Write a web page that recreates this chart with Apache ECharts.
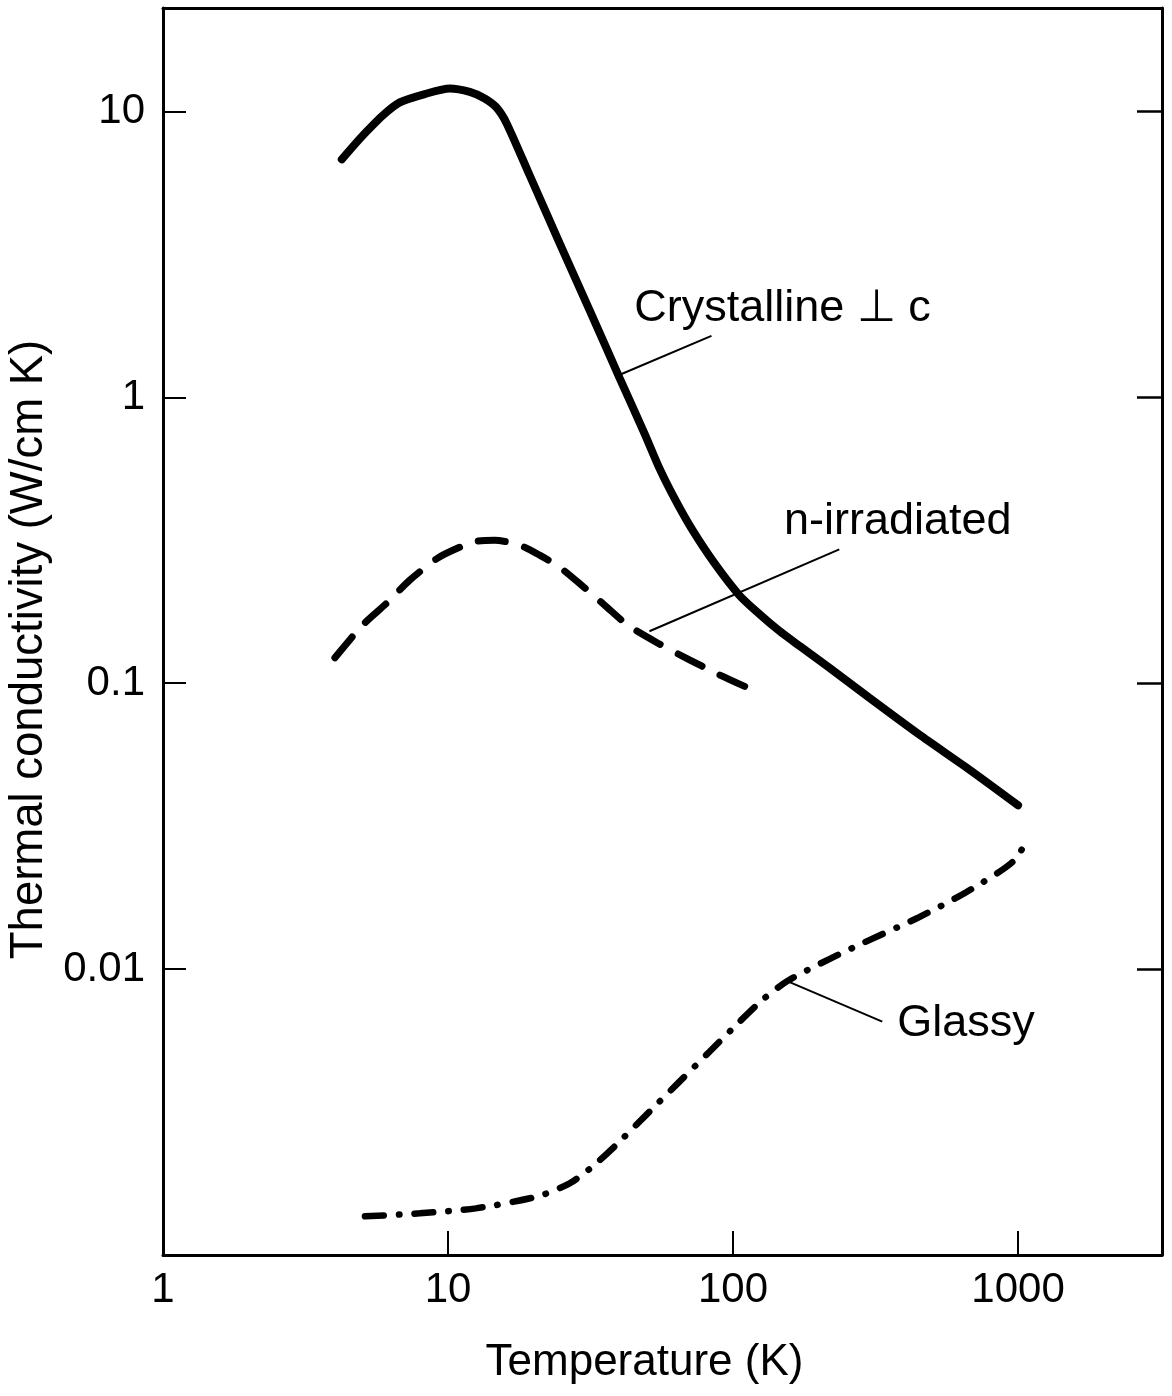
<!DOCTYPE html>
<html>
<head>
<meta charset="utf-8">
<script src="https://cdn.jsdelivr.net/npm/echarts@6/dist/echarts.min.js"></script>
<style>
  html, body { margin: 0; padding: 0; background: #fff; }
  #chart { width: 1172px; height: 1396px; }
</style>
</head>
<body>
<div id="chart"></div>
<script>
// --- data (T in K, conductivity in W/cm K) ---
const crystT = [4.24, 4.71, 5.19, 5.9, 6.77, 8.29, 10.14, 11.92, 13.45, 14.82, 16.06, 19.34, 24.63, 31.38, 39.97,
  48.93, 55.21, 62.34, 71.48, 86.07, 105.3, 123.7, 145.4, 170.9, 217.8, 300.7, 450.2, 673.9, 1000];
const crystK = [6.8, 7.67, 8.52, 9.68, 10.75, 11.5, 12.03, 11.7, 11.1, 10.3, 9.08, 5.98, 3.46, 2.02, 1.17,
  0.747, 0.564, 0.443, 0.348, 0.263, 0.203, 0.1746, 0.1523, 0.1351, 0.1132, 0.0889, 0.0661, 0.0499, 0.0374];

const irradT = [4.01, 4.98, 6.1, 7.34, 9.2, 10.99, 12.61, 14.58, 17.84, 20.96, 24.63, 29.66, 35.42, 42.65, 54.33, 70.35, 89.6, 118.9];
const irradK = [0.1227, 0.1585, 0.1907, 0.2294, 0.2739, 0.299, 0.3139, 0.3164, 0.3039, 0.2804, 0.2547, 0.2186, 0.1877, 0.1598, 0.1383, 0.1207, 0.107, 0.0941];

const glassT = [5.11, 7.96, 12.51, 20.63, 26.71, 32.16, 38.39, 50.93, 64.89, 82.66, 105.3, 126.8, 155.1, 217.8, 300.7, 450.2, 657.8, 953.4, 1094];
const glassK = [0.001365, 0.001399, 0.001456, 0.001603, 0.00178, 0.00204, 0.002396, 0.003173, 0.004039, 0.005139, 0.006539,
  0.007802, 0.009089, 0.01084, 0.01263, 0.0152, 0.01858, 0.02363, 0.02889];

// tick labels
const xTickValues = [1, 10, 100, 1000];
const xTickLabels = ['1', '10', '100', '1000'];
const yTickValues = [0.01, 0.1, 1, 10];
const yTickLabels = ['0.01', '0.1', '1', '10'];

// curve labels and their leader lines (data coords)
const labelNames = ['Crystalline \u22A5 c', 'n-irradiated', 'Glassy'];
const labelAt = [[45, 2.04], [151, 0.368], [377, 0.00644]];
const leaders = [
  [[39.3, 1.19], [84, 1.64]],
  [[50.9, 0.152], [236, 0.294]],
  [[155, 0.00908], [334, 0.00655]]
];

const INK = '#000';
const FONT = '"Liberation Sans", Arial, Helvetica, sans-serif';

const pairs = (xs, ys) => xs.map((x, i) => [x, ys[i]]);
const pickLabel = (vals, labels) => (v) => {
  for (let i = 0; i < vals.length; i++) {
    if (Math.abs(Math.log10(v) - Math.log10(vals[i])) < 1e-6) return labels[i];
  }
  return '';
};

const chart = echarts.init(document.getElementById('chart'));

const leaderSeries = leaders.map((seg) => ({
  type: 'line',
  data: seg,
  symbol: 'none',
  silent: true,
  lineStyle: { color: INK, width: 2 },
  z: 1
}));

const option = {
  backgroundColor: '#fff',
  animation: false,
  grid: { left: 163, right: 10, top: 8, bottom: 141, outerBoundsMode: 'none', containLabel: false },
  xAxis: [
    {
      type: 'log', logBase: 10, min: 1, max: 3200, position: 'bottom',
      name: 'Temperature (K)', nameLocation: 'middle', nameGap: 86,
      nameTextStyle: { color: INK, fontSize: 44, fontFamily: FONT, padding: [0, 36, 0, 0] },
      axisLine: { lineStyle: { color: INK, width: 3 } },
      axisTick: { inside: true, length: 24, lineStyle: { color: INK, width: 2 } },
      axisLabel: { color: INK, fontSize: 42, fontFamily: FONT, margin: 14, formatter: pickLabel(xTickValues, xTickLabels) },
      splitLine: { show: false },
      minorTick: { show: false }
    },
    {
      type: 'log', logBase: 10, min: 1, max: 3200, position: 'top',
      axisLine: { show: true, lineStyle: { color: INK, width: 3 } },
      axisTick: { show: false }, axisLabel: { show: false }, splitLine: { show: false }
    }
  ],
  yAxis: [
    {
      type: 'log', logBase: 10, min: 0.001, max: 23, position: 'left',
      name: 'Thermal conductivity (W/cm K)', nameLocation: 'middle', nameGap: 94,
      nameTextStyle: { color: INK, fontSize: 45.5, fontFamily: FONT, padding: [0, 36, 0, 0] },
      axisLine: { show: true, lineStyle: { color: INK, width: 3 } },
      axisTick: { inside: true, length: 23, lineStyle: { color: INK, width: 2 } },
      axisLabel: { color: INK, fontSize: 42, fontFamily: FONT, margin: 18, formatter: pickLabel(yTickValues, yTickLabels) },
      splitLine: { show: false }
    },
    {
      type: 'log', logBase: 10, min: 0.001, max: 23, position: 'right',
      axisLine: { show: true, lineStyle: { color: INK, width: 3 } },
      axisTick: { inside: true, length: 25, lineStyle: { color: INK, width: 2.5 } },
      axisLabel: { show: false }, splitLine: { show: false }
    }
  ],
  series: [
    {
      name: 'Crystalline', type: 'line', data: pairs(crystT, crystK),
      smooth: 0.25, symbol: 'none',
      lineStyle: { color: INK, width: 8, cap: 'round' }, z: 3
    },
    {
      name: 'n-irradiated', type: 'line', data: pairs(irradT, irradK),
      smooth: 0.25, symbol: 'none',
      lineStyle: { color: INK, width: 7, type: [27, 20], cap: 'round' }, z: 3
    },
    {
      name: 'Glassy', type: 'line', data: pairs(glassT, glassK),
      smooth: 0.25, symbol: 'none',
      lineStyle: { color: INK, width: 6.5, type: [19, 15, 0.5, 15], cap: 'round' }, z: 3
    },
    ...leaderSeries,
    {
      type: 'scatter', symbolSize: 0, silent: true,
      itemStyle: { opacity: 1 },
      data: labelAt.map((p, i) => ({ value: p, name: labelNames[i] })),
      label: {
        show: true, position: 'right', distance: 0, opacity: 1,
        formatter: (p) => p.name,
        color: INK, fontSize: 45, fontFamily: FONT, textBorderWidth: 0
      }
    }
  ]
};

chart.setOption(option);
</script>
</body>
</html>
